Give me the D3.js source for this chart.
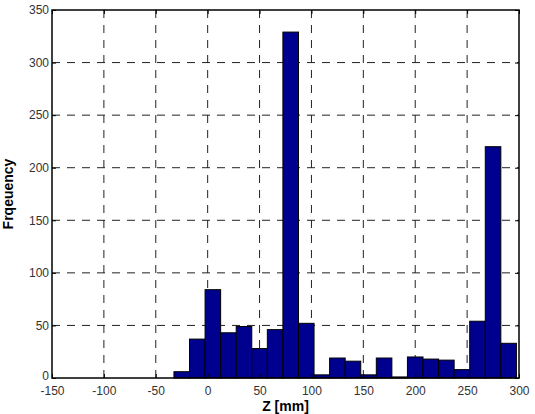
<!DOCTYPE html>
<html>
<head>
<meta charset="utf-8">
<script src="https://cdn.jsdelivr.net/npm/d3@7"></script>
<style>
body { margin: 0; background: #fff; }
text { font-family: "Liberation Sans", Arial, sans-serif; }
</style>
</head>
<body>
<svg></svg>
<script>
var binCenters = [-25, -10, 5, 20, 35, 50, 65, 80, 95, 110, 125, 140, 155, 170, 185, 200, 215, 230, 245, 260, 275, 290];
var counts = [6, 37, 84, 43, 49, 28, 46, 329, 52, 3, 19, 16, 3, 19, 1, 20, 18, 17, 8, 54, 220, 33];
var binWidth = 15;
var xTicks = [-150, -100, -50, 0, 50, 100, 150, 200, 250, 300];
var yTicks = [0, 50, 100, 150, 200, 250, 300, 350];

var width = 535;
var height = 414;
var margin = { top: 10, right: 16, bottom: 36, left: 52 };
var w = width - margin.left - margin.right;
var h = height - margin.top - margin.bottom;

var svg = d3.select('svg')
	.attr('width', width)
	.attr('height', height);

var g = svg.append('g')
	.attr('transform', `translate(${margin.left},${margin.top})`);

var x = d3.scaleLinear().domain([-150, 300]).range([0, w]);
var y = d3.scaleLinear().domain([0, 350]).range([h, 0]);

// dashed grid
g.selectAll('.vgrid').data(xTicks.slice(1, -1)).enter().append('line')
	.attr('x1', d => x(d)).attr('x2', d => x(d))
	.attr('y1', 0).attr('y2', h)
	.attr('stroke', '#222').attr('stroke-width', 1)
	.attr('stroke-dasharray', '8,7');
g.selectAll('.hgrid').data(yTicks.slice(1, -1)).enter().append('line')
	.attr('y1', d => y(d)).attr('y2', d => y(d))
	.attr('x1', 0).attr('x2', w)
	.attr('stroke', '#222').attr('stroke-width', 1)
	.attr('stroke-dasharray', '8,7');

// bars
g.selectAll('.bar').data(binCenters).enter().append('rect')
	.attr('x', d => x(d - binWidth / 2))
	.attr('width', d => x(d + binWidth / 2) - x(d - binWidth / 2))
	.attr('y', (d, i) => y(counts[i]))
	.attr('height', (d, i) => h - y(counts[i]))
	.attr('fill', '#00008f')
	.attr('stroke', '#000')
	.attr('stroke-width', 1);

// axes with inward ticks, matlab style
var fmt = d => String(d);
var xAxis = d3.axisBottom(x).tickValues(xTicks).tickSize(-4).tickPadding(8).tickFormat(fmt);
var yAxis = d3.axisLeft(y).tickValues(yTicks).tickSize(-4).tickPadding(3).tickFormat(fmt);

var gx = g.append('g').attr('transform', `translate(0,${h})`).call(xAxis);
var gy = g.append('g').call(yAxis);
var gxt = g.append('g').call(d3.axisTop(x).tickValues(xTicks).tickSize(-4).tickFormat(''));
var gyr = g.append('g').attr('transform', `translate(${w},0)`)
	.call(d3.axisRight(y).tickValues(yTicks).tickSize(-4).tickFormat(''));

[gx, gy, gxt, gyr].forEach(function(a) {
	a.select('.domain').remove();
	a.selectAll('line').attr('stroke', '#000');
	a.selectAll('text').attr('font-size', 12).attr('fill', '#333')
		.style('font-family', '"Liberation Sans", Arial, sans-serif');
});
// the 0 label sits just above the -150 label
gy.selectAll('.tick text').filter(d => d === 0).attr('dy', '0.1em');

g.append('rect')
	.attr('width', w).attr('height', h)
	.attr('fill', 'none').attr('stroke', '#000').attr('stroke-width', 1.5);

svg.append('text')
	.attr('x', margin.left + w / 2).attr('y', 411)
	.attr('text-anchor', 'middle')
	.attr('font-size', 14).attr('font-weight', 'bold')
	.text('Z [mm]');

svg.append('text')
	.attr('transform', `translate(13,${margin.top + h / 2}) rotate(-90)`)
	.attr('text-anchor', 'middle')
	.attr('font-size', 14).attr('font-weight', 'bold')
	.text('Frqeuency');
</script>
</body>
</html>
